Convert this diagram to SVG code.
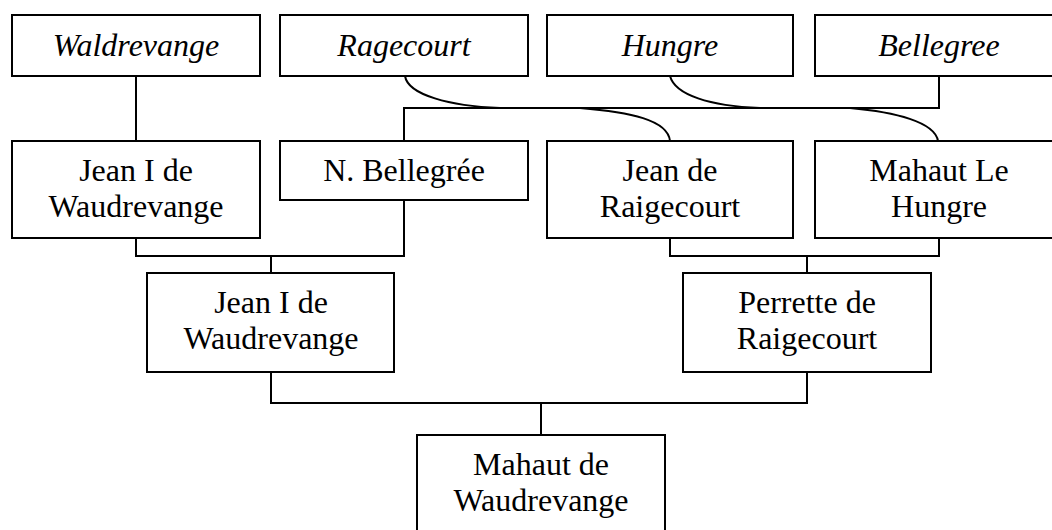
<svg xmlns="http://www.w3.org/2000/svg" width="1052" height="530" viewBox="0 0 1052 530">
<style>
rect{fill:#fff;stroke:#000;stroke-width:2}
text{font-family:"Liberation Serif","Times New Roman",serif;font-size:32px;fill:#000;text-anchor:middle}
.it{font-style:italic}
#connectors path{fill:none;stroke:#000;stroke-width:2}
</style>
<rect x="0" y="0" width="1052" height="530" style="stroke:none"/>
<g id="connectors">
<path d="M136,76V141"/>
<path d="M939,76V108H404V141"/>
<path d="M405,76C408,95 450,106 500,108L580,108C630,112 668,120 670,141"/>
<path d="M670,76C675,95 710,106 760,108L850,108C895,112 935,122 938,141"/>
<path d="M136,238V256H404V200"/>
<path d="M271,256V273"/>
<path d="M670,238V256H939V238"/>
<path d="M807,256V273"/>
<path d="M271,372V403H807V372"/>
<path d="M541,403V435"/>
</g>
<g id="waldrevange"><rect x="12" y="15" width="248" height="61"/><text class="it" x="136" y="56">Waldrevange</text></g>
<g id="ragecourt"><rect x="280" y="15" width="248" height="61"/><text class="it" x="404" y="56">Ragecourt</text></g>
<g id="hungre"><rect x="547" y="15" width="246" height="61"/><text class="it" x="670" y="56">Hungre</text></g>
<g id="bellegree"><rect x="815" y="15" width="248" height="61"/><text class="it" x="939" y="56">Bellegree</text></g>
<g id="jean1a"><rect x="12" y="141" width="248" height="97"/><text x="136" y="181">Jean I de</text><text x="136" y="217">Waudrevange</text></g>
<g id="nbellegree"><rect x="280" y="141" width="248" height="59"/><text x="404" y="181">N. Bellegrée</text></g>
<g id="jeanraigecourt"><rect x="547" y="141" width="246" height="97"/><text x="670" y="181">Jean de</text><text x="670" y="217">Raigecourt</text></g>
<g id="mahautlehungre"><rect x="815" y="141" width="248" height="97"/><text x="939" y="181">Mahaut Le</text><text x="939" y="217">Hungre</text></g>
<g id="jean1b"><rect x="147" y="273" width="247" height="99"/><text x="271" y="313">Jean I de</text><text x="271" y="349">Waudrevange</text></g>
<g id="perrette"><rect x="683" y="273" width="248" height="99"/><text x="807" y="313">Perrette de</text><text x="807" y="349">Raigecourt</text></g>
<g id="mahautwaudrevange"><rect x="417" y="435" width="248" height="99"/><text x="541" y="475">Mahaut de</text><text x="541" y="511">Waudrevange</text></g>
</svg>
